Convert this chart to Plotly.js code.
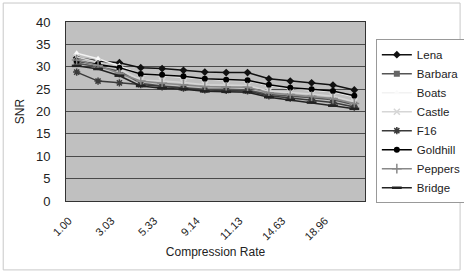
<!DOCTYPE html>
<html><head><meta charset="utf-8">
<script src="https://cdn.plot.ly/plotly-3.0.1.min.js"></script>
<style>html,body{margin:0;padding:0;background:#fff}#c{width:464px;height:274px}</style>
</head><body><div id="c"></div>
<script>
const rates = ["1.00","2.01","3.03","4.12","5.33","7.05","9.14","10.10","11.13","12.90","14.63","16.80","18.96","21.50"];
const tickRates = ["1.00","3.03","5.33","9.14","11.13","14.63","18.96"];
const lena     = [32.0, 31.3, 30.9, 29.8, 29.6, 29.2, 28.8, 28.7, 28.7, 27.3, 26.8, 26.4, 25.9, 24.8];
const barbara  = [30.8, 30.0, 29.0, 26.3, 25.7, 25.4, 25.0, 25.0, 24.8, 23.8, 23.5, 23.1, 22.6, 21.5];
const boats    = [33.0, 31.8, 30.2, 28.3, 28.0, 27.7, 27.3, 27.0, 26.9, 25.8, 25.2, 24.8, 24.4, 23.3];
const castle   = [32.2, 31.0, 29.5, 27.0, 26.8, 26.5, 26.0, 25.9, 25.8, 24.6, 24.3, 23.9, 23.4, 22.2];
const f16      = [28.8, 26.8, 26.4, 26.0, 25.5, 25.2, 24.8, 24.7, 24.6, 23.5, 23.0, 22.6, 22.0, 21.0];
const goldhill = [31.3, 30.6, 29.8, 28.4, 28.2, 27.9, 27.3, 27.1, 27.0, 26.0, 25.3, 25.0, 24.6, 23.5];
const peppers  = [31.5, 30.3, 28.5, 26.8, 26.3, 26.0, 25.6, 25.5, 25.4, 24.2, 23.8, 23.4, 22.9, 21.8];
const bridge   = [30.2, 29.5, 28.0, 25.7, 25.2, 25.0, 24.5, 24.4, 24.3, 23.2, 22.6, 22.0, 21.3, 20.6];

function tr(name, y, lc, mc, sym, ms, mlw) {
  return {type:'scatter', mode:'lines+markers', name:name, x:rates, y:y,
    line:{color:lc, width:1.5},
    marker:{symbol:sym, size:ms, color:mc, line:{color:mc, width:mlw||0}}};
}
const data = [
  tr('Lena', lena, '#111', '#111', 'diamond', 6),
  tr('Barbara', barbara, '#555', '#666', 'square', 6),
  tr('Boats', boats, '#f2f2f2', '#fafafa', 'triangle-up', 6),
  tr('Castle', castle, '#d6d6d6', '#d6d6d6', 'x-thin-open', 6, 1.5),
  tr('F16', f16, '#3a3a3a', '#3a3a3a', 'asterisk-open', 6, 1.5),
  tr('Goldhill', goldhill, '#000', '#000', 'circle', 6),
  tr('Peppers', peppers, '#888', '#888', 'cross-thin-open', 7, 1.5),
  tr('Bridge', bridge, '#222', '#222', 'line-ew-open', 7, 2.5)
];
const fam = 'Liberation Sans, Arial, sans-serif';
const layout = {
  width:464, height:274,
  margin:{l:66, r:99, t:22, b:73, autoexpand:false},
  paper_bgcolor:'#fff', plot_bgcolor:'#c0c0c0',
  font:{family:fam, size:12, color:'#222'},
  showlegend:true,
  legend:{xref:'container', yref:'container', x:0.81, xanchor:'left', y:0.857, yanchor:'top', bgcolor:'#fff',
          bordercolor:'#999', borderwidth:1, font:{family:fam, size:11.5, color:'#222'},
          tracegroupgap:0, itemwidth:30, maxheight:250},
  xaxis:{type:'category', categoryarray:rates, tickmode:'array', tickvals:tickRates, ticktext:tickRates,
         tickangle:-45, showgrid:false, showline:true, linecolor:'#333', linewidth:1, mirror:true,
         ticks:'', range:[-0.5, 13.5], ticklabelshift:-8, ticklabelstandoff:8, automargin:false,
         title:{text:'Compression Rate', font:{family:fam, size:12, color:'#222'}, standoff:6},
         tickfont:{family:fam, size:11, color:'#222'}},
  yaxis:{range:[0,40], dtick:5, showgrid:true, gridcolor:'#4a4a4a', gridwidth:1,
         showline:true, linecolor:'#333', linewidth:1, mirror:true, zeroline:false,
         ticklabelstandoff:12, automargin:false,
         title:{text:'SNR', font:{family:fam, size:12, color:'#222'}, standoff:8},
         tickfont:{family:fam, size:13, color:'#222'}},
  shapes:[{type:'rect', xref:'paper', yref:'paper', x0:-0.21, x1:1.318, y0:-0.385, y1:1.106,
           line:{color:'#c8c8c8', width:1}, fillcolor:'rgba(0,0,0,0)', layer:'below'}]
};
Plotly.newPlot('c', data, layout, {displayModeBar:false, staticPlot:true});
</script></body></html>
